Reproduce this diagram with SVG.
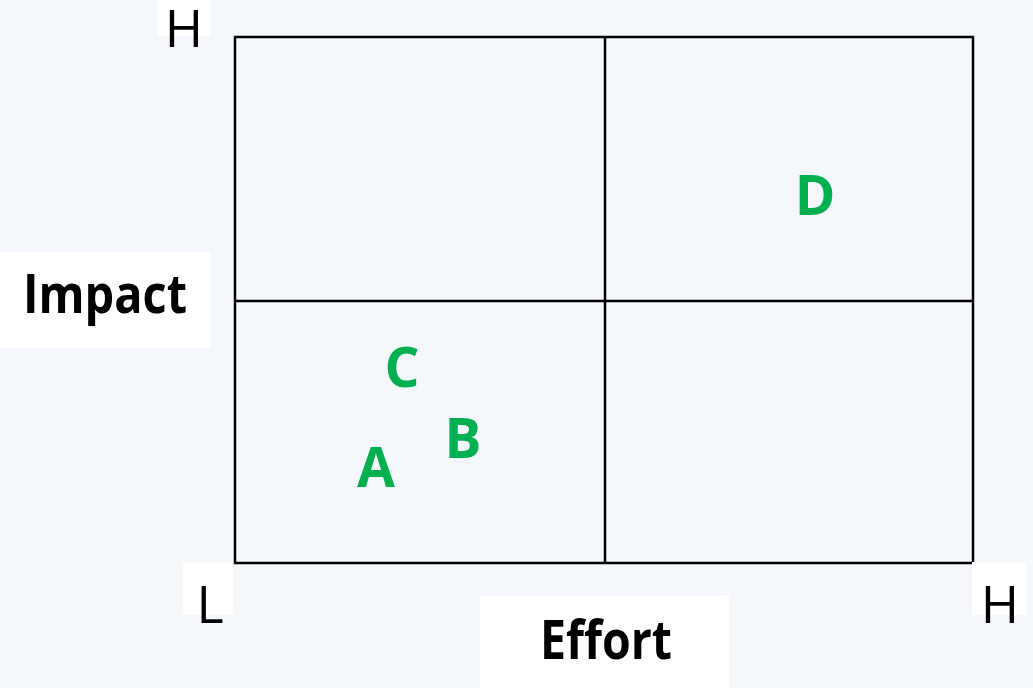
<svg xmlns="http://www.w3.org/2000/svg" width="1033" height="688" viewBox="0 0 1033 688">
<style>
.lbl{font-family:"Open Sans","Liberation Sans",sans-serif;fill:#000;text-anchor:middle}
.axis{font-weight:bold;font-size:53px}
.tick{font-size:52px}
.pt{font-family:"Open Sans","Liberation Sans",sans-serif;font-weight:bold;font-size:55px;fill:#00B050;text-anchor:middle}
.box{fill:#fff}
.grid{fill:none;stroke:#000;stroke-width:2.5}
</style>
<rect width="1033" height="688" fill="#F4F7FB"/>
<g id="grid">
<rect class="grid" x="235" y="37" width="738" height="526"/>
<line class="grid" x1="605" y1="37" x2="605" y2="563"/>
<line class="grid" x1="235" y1="301" x2="973" y2="301"/>
</g>
<g id="label-h-top"><rect class="box" x="157" y="0" width="54" height="36"/><text class="lbl tick" x="184" y="47">H</text></g>
<g id="label-impact"><rect class="box" x="0" y="252" width="211" height="96"/><text class="lbl axis" x="105" y="313" textLength="164" lengthAdjust="spacingAndGlyphs">Impact</text></g>
<g id="label-l"><rect class="box" x="183" y="562" width="50" height="53"/><text class="lbl tick" x="210" y="623">L</text></g>
<g id="label-effort"><rect class="box" x="480" y="596" width="249" height="92"/><text class="lbl axis" x="606" y="659" textLength="132" lengthAdjust="spacingAndGlyphs">Effort</text></g>
<g id="label-h-right"><rect class="box" x="972" y="562" width="54" height="53"/><text class="lbl tick" x="1000" y="623">H</text></g>
<g id="point-a"><text class="pt" x="376" y="487">A</text></g>
<g id="point-b"><text class="pt" x="463" y="458">B</text></g>
<g id="point-c"><text class="pt" x="402" y="387">C</text></g>
<g id="point-d"><text class="pt" x="815" y="215">D</text></g>
</svg>
